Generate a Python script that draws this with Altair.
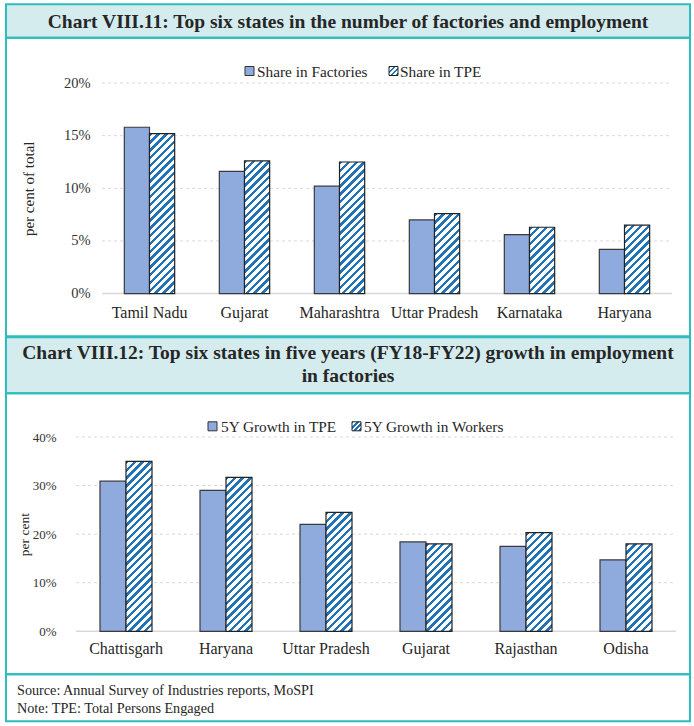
import math
import altair as alt

# ---------------- data ----------------
states1 = ["Tamil Nadu", "Gujarat", "Maharashtra", "Uttar Pradesh", "Karnataka", "Haryana"]
series1 = ["Share in Factories", "Share in TPE"]
share_factories = [15.8, 11.6, 10.2, 7.0, 5.6, 4.2]
share_tpe = [15.2, 12.6, 12.5, 7.6, 6.3, 6.5]
ticks1 = [0, 5, 10, 15, 20]

states2 = ["Chattisgarh", "Haryana", "Uttar Pradesh", "Gujarat", "Rajasthan", "Odisha"]
series2 = ["5Y Growth in TPE", "5Y Growth in Workers"]
growth_tpe = [30.9, 29.0, 22.0, 18.4, 17.5, 14.7]
growth_workers = [35.0, 31.7, 24.5, 18.0, 20.3, 18.0]
ticks2 = [0, 10, 20, 30, 40]

title1 = ["Chart VIII.11: Top six states in the number of factories and employment"]
title2 = ["Chart VIII.12: Top six states in five years (FY18-FY22) growth in employment",
          "in factories"]
ytitle1 = "per cent of total"
ytitle2 = "per cent"
notes = ["Source: Annual Survey of Industries reports, MoSPI",
         "Note: TPE: Total Persons Engaged"]

# ---------------- style ----------------
SOLID = "#8FAADC"
BLUE = "#2272B6"
TEAL = "#2DBDBE"
BAND = "#D5ECEF"
TXT = "#262626"
GRID = "#D9D9D9"
SERIF = "Liberation Serif"


def hatch(w, h, period=7.8, frac=0.44):
    """Diagonal '/' stripes as a bbox-relative linear gradient."""
    total = w + h
    d = w * w + h * h
    stops = []
    k = 0
    while k * period < total:
        t0 = k * period / total
        t1 = min((k + frac) * period / total, 1.0)
        t2 = min((k + 1) * period / total, 1.0)
        stops += [
            {"offset": round(t0, 5), "color": BLUE},
            {"offset": round(t1, 5), "color": BLUE},
            {"offset": round(t1, 5), "color": "white"},
            {"offset": round(t2, 5), "color": "white"},
        ]
        k += 1
    return {"gradient": "linear", "x1": 0, "y1": 0,
            "x2": round(w * total / d, 5), "y2": round(h * total / d, 5),
            "stops": stops}


def one(text):
    return alt.Data(values=[{"label": text}])


def rect(x, x2, y, y2, **kw):
    return alt.Chart(one("")).mark_rect(**kw).encode(
        x=alt.value(x), x2=alt.value(x2), y=alt.value(y), y2=alt.value(y2))


def text(t, x, y, **kw):
    return alt.Chart(one(t)).mark_text(font=SERIF, color=TXT, **kw).encode(
        x=alt.value(x), y=alt.value(y), text="label:N")


def panel(states, series, va, vb, ymax, ticks, x0, x1, H, pin, ytitle,
          lab_size, lab_pad, title_size, title_pad, xlab_pad):
    bw = (x1 - x0) / len(states) * (1 - pin) / 2
    yscale = alt.Scale(domain=[0, ymax], nice=False)
    xenc = alt.X("state:N", sort=states, title=None,
                 scale=alt.Scale(paddingInner=pin, paddingOuter=pin / 2, range=[x0, x1]),
                 axis=alt.Axis(labelAngle=0, labelFont=SERIF, labelFontSize=16,
                               labelColor=TXT, labelPadding=xlab_pad, ticks=False,
                               domain=False, grid=False))
    yenc = alt.Y("value:Q", title=ytitle, scale=yscale,
                 axis=alt.Axis(values=ticks, labelExpr="datum.value + '%'",
                               labelFont=SERIF, labelFontSize=lab_size, labelColor="#333333",
                               labelPadding=lab_pad, ticks=False, domain=False,
                               grid=False, offset=-x0,
                               titleFont=SERIF, titleFontSize=title_size,
                               titleFontWeight="normal", titleColor=TXT,
                               titlePadding=title_pad))
    grid = alt.Chart(alt.Data(values=[{"v": t} for t in ticks[1:]])).mark_rule(
        color=GRID, strokeDash=[3, 3], strokeWidth=1
    ).encode(y=alt.Y("v:Q", scale=yscale), x=alt.value(x0), x2=alt.value(x1))
    base = alt.Chart(alt.Data(values=[{"v": ticks[0]}])).mark_rule(
        color=GRID, strokeWidth=1.5
    ).encode(y=alt.Y("v:Q", scale=yscale), x=alt.value(x0), x2=alt.value(x1))
    rows_a = [{"state": s, "series": series[0], "value": v} for s, v in zip(states, va)]
    rows_b = [{"state": s, "series": series[1], "value": v} for s, v in zip(states, vb)]
    conds = [
        {"test": f"datum.state === '{s}'", "value": hatch(bw, v / ymax * H)}
        for s, v in zip(states, vb)
    ]
    solid = alt.Chart(alt.Data(values=rows_a)).mark_bar(
        width=bw, xOffset=-bw / 2, fill=SOLID, stroke="#3a3a3a", strokeWidth=1.2
    ).encode(x=xenc, y=yenc)
    hatched = alt.Chart(alt.Data(values=rows_b)).mark_bar(
        width=bw, xOffset=bw / 2, stroke="#222222", strokeWidth=1.2
    ).encode(x=xenc, y=yenc, fill={"condition": conds, "value": "white"})
    return [grid, base, solid, hatched]


# common plot origin for both panels: page x = 76
# ---------------- panel 1 ----------------
H1 = 210.6
p1 = alt.layer(
    rect(-70, 614, -78.7, -45.2, fill=BAND, stroke=TEAL, strokeWidth=2),
    rect(-70, 614, -45.2, 253.3, fill="white", fillOpacity=0, stroke=TEAL, strokeWidth=2),
    text(title1[0], 272, -61.5, fontSize=19.5, fontWeight="bold", align="center",
         baseline="middle"),
    rect(169, 178, -16.5, -7.5, fill=SOLID, stroke="#333333", strokeWidth=1),
    text(series1[0], 181, -11.5, fontSize=15.3, align="left", baseline="middle"),
    rect(313, 322, -16.5, -7.5, fill=hatch(9, 9, period=5), stroke="#222222", strokeWidth=1),
    text(series1[1], 324, -11.5, fontSize=15.3, align="left", baseline="middle"),
    *panel(states1, series1, share_factories, share_tpe, 20, ticks1, 26, 596, H1, 0.47,
           ytitle1, 14.5, 12, 15, 27, 11),
).properties(width=600, height=H1)

# ---------------- panel 2 ----------------
H2 = 194.3
p2 = alt.layer(
    rect(-70, 614, -99.7, -43.7, fill=BAND, stroke=TEAL, strokeWidth=2),
    rect(-70, 614, -43.7, 237.3, fill="white", fillOpacity=0, stroke=TEAL, strokeWidth=2),
    rect(-70, 614, 237.3, 284.3, fill="white", fillOpacity=0, stroke=TEAL, strokeWidth=2),
    text(title2[0], 272, -84, fontSize=19.5, fontWeight="bold", align="center",
         baseline="middle"),
    text(title2[1], 272, -61, fontSize=19.5, fontWeight="bold", align="center",
         baseline="middle"),
    rect(132, 141, -15.2, -6.2, fill=SOLID, stroke="#333333", strokeWidth=1),
    text(series2[0], 145, -10.5, fontSize=15.3, align="left", baseline="middle"),
    rect(276, 285, -15.2, -6.2, fill=hatch(9, 9, period=5), stroke="#222222", strokeWidth=1),
    text(series2[1], 288, -10.5, fontSize=15.3, align="left", baseline="middle"),
    text(notes[0], -59, 253.5, fontSize=14.2, align="left", baseline="middle"),
    text(notes[1], -59, 271.5, fontSize=14.2, align="left", baseline="middle"),
    *panel(states2, series2, growth_tpe, growth_workers, 40, ticks2, 0, 600, H2, 0.48,
           ytitle2, 13, 20, 13.5, 1, 9),
).properties(width=600, height=H2)

chart = alt.vconcat(p1, p2, spacing=-2).properties(
    padding={"left": 5, "top": 3, "right": 3, "bottom": 5}
).configure_view(stroke=None)

chart.save("out.html", embed_options={"renderer": "svg", "actions": False})
